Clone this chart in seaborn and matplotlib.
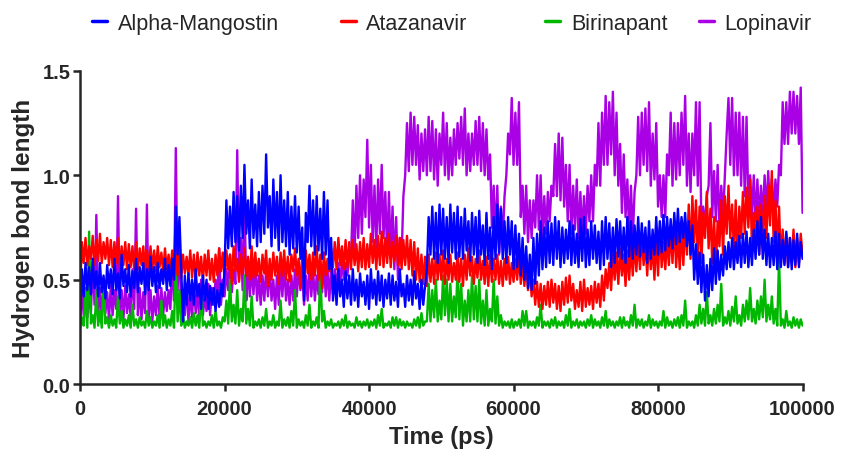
import numpy as np
import pandas as pd
import seaborn as sns
import matplotlib.pyplot as plt

# time axis (ps), one sample every 250 ps
time_ps = np.arange(0, 100001, 250)

alpha_mangostin = [
    0.32, 0.55, 0.42, 0.58, 0.45, 0.56, 0.43, 0.60, 0.46, 0.54,
    0.42, 0.58, 0.44, 0.52, 0.41, 0.57, 0.46, 0.55, 0.43, 0.60,
    0.45, 0.53, 0.41, 0.62, 0.47, 0.55, 0.44, 0.57, 0.42, 0.54,
    0.46, 0.60, 0.44, 0.56, 0.48, 0.58, 0.43, 0.55, 0.45, 0.61,
    0.47, 0.56, 0.44, 0.58, 0.46, 0.55, 0.48, 0.60, 0.45, 0.57,
    0.47, 0.60, 0.50, 0.85, 0.62, 0.80, 0.55, 0.30, 0.52, 0.38,
    0.53, 0.40, 0.50, 0.38, 0.55, 0.42, 0.48, 0.36, 0.52, 0.40,
    0.50, 0.36, 0.47, 0.38, 0.46, 0.35, 0.45, 0.37, 0.48, 0.42,
    0.55, 0.88, 0.65, 0.85, 0.66, 0.92, 0.68, 0.90, 0.64, 0.95,
    0.70, 1.05, 0.72, 0.88, 0.65, 0.98, 0.70, 0.86, 0.66, 0.92,
    0.68, 0.95, 0.72, 1.10, 0.75, 0.90, 0.66, 0.98, 0.70, 0.92,
    0.64, 1.00, 0.68, 0.88, 0.66, 0.92, 0.62, 0.85, 0.65, 0.90,
    0.63, 0.85, 0.60, 0.75, 0.40, 0.82, 0.68, 0.95, 0.66, 0.88,
    0.62, 0.90, 0.64, 0.84, 0.60, 0.92, 0.62, 0.88, 0.55, 0.70,
    0.40, 0.52, 0.38, 0.55, 0.42, 0.50, 0.37, 0.54, 0.41, 0.52,
    0.38, 0.55, 0.40, 0.50, 0.37, 0.53, 0.42, 0.49, 0.38, 0.52,
    0.36, 0.55, 0.41, 0.50, 0.38, 0.54, 0.40, 0.52, 0.37, 0.50,
    0.41, 0.53, 0.38, 0.52, 0.40, 0.49, 0.37, 0.55, 0.42, 0.48,
    0.37, 0.52, 0.40, 0.50, 0.38, 0.54, 0.41, 0.48, 0.36, 0.50,
    0.38, 0.47, 0.55, 0.80, 0.62, 0.85, 0.60, 0.82, 0.58, 0.86,
    0.62, 0.84, 0.60, 0.80, 0.58, 0.86, 0.63, 0.82, 0.60, 0.85,
    0.61, 0.80, 0.60, 0.84, 0.64, 0.78, 0.59, 0.82, 0.62, 0.80,
    0.58, 0.83, 0.62, 0.76, 0.57, 0.82, 0.60, 0.75, 0.55, 0.80,
    0.60, 0.86, 0.63, 0.84, 0.60, 0.78, 0.58, 0.80, 0.62, 0.78,
    0.55, 0.76, 0.56, 0.72, 0.52, 0.70, 0.50, 0.66, 0.46, 0.62,
    0.45, 0.70, 0.48, 0.72, 0.52, 0.78, 0.55, 0.75, 0.56, 0.78,
    0.58, 0.77, 0.57, 0.80, 0.60, 0.78, 0.56, 0.75, 0.58, 0.74,
    0.60, 0.78, 0.57, 0.76, 0.58, 0.72, 0.56, 0.79, 0.59, 0.80,
    0.56, 0.74, 0.57, 0.78, 0.60, 0.76, 0.58, 0.73, 0.55, 0.78,
    0.57, 0.80, 0.60, 0.77, 0.56, 0.75, 0.58, 0.79, 0.61, 0.78,
    0.60, 0.75, 0.58, 0.80, 0.61, 0.78, 0.60, 0.76, 0.62, 0.80,
    0.61, 0.77, 0.63, 0.75, 0.58, 0.78, 0.60, 0.74, 0.62, 0.80,
    0.62, 0.78, 0.63, 0.81, 0.64, 0.80, 0.66, 0.79, 0.65, 0.82,
    0.67, 0.84, 0.68, 0.80, 0.70, 0.82, 0.66, 0.78, 0.62, 0.76,
    0.50, 0.67, 0.48, 0.63, 0.44, 0.62, 0.40, 0.57, 0.42, 0.60,
    0.45, 0.65, 0.48, 0.64, 0.50, 0.62, 0.52, 0.66, 0.55, 0.68,
    0.56, 0.70, 0.55, 0.68, 0.58, 0.71, 0.56, 0.72, 0.58, 0.73,
    0.56, 0.70, 0.57, 0.74, 0.60, 0.78, 0.62, 0.80, 0.60, 0.74,
    0.57, 0.72, 0.56, 0.70, 0.57, 0.73, 0.55, 0.72, 0.56, 0.69,
    0.57, 0.73, 0.56, 0.70, 0.55, 0.69, 0.57, 0.72, 0.56, 0.68,
    0.60,
]

atazanavir = [
    0.45, 0.68, 0.58, 0.70, 0.57, 0.66, 0.60, 0.71, 0.57, 0.69,
    0.59, 0.72, 0.58, 0.68, 0.60, 0.70, 0.57, 0.69, 0.56, 0.68,
    0.58, 0.70, 0.56, 0.66, 0.57, 0.68, 0.55, 0.67, 0.56, 0.66,
    0.54, 0.68, 0.55, 0.65, 0.57, 0.66, 0.54, 0.64, 0.56, 0.66,
    0.55, 0.64, 0.54, 0.66, 0.56, 0.63, 0.54, 0.65, 0.55, 0.62,
    0.53, 0.64, 0.50, 0.62, 0.52, 0.63, 0.51, 0.62, 0.53, 0.61,
    0.52, 0.64, 0.51, 0.62, 0.50, 0.63, 0.52, 0.61, 0.49, 0.62,
    0.52, 0.64, 0.50, 0.60, 0.49, 0.62, 0.52, 0.65, 0.54, 0.63,
    0.50, 0.64, 0.55, 0.62, 0.48, 0.66, 0.54, 0.60, 0.49, 0.62,
    0.53, 0.65, 0.52, 0.61, 0.50, 0.66, 0.51, 0.63, 0.52, 0.60,
    0.49, 0.62, 0.53, 0.64, 0.47, 0.60, 0.50, 0.63, 0.52, 0.61,
    0.48, 0.63, 0.52, 0.64, 0.50, 0.61, 0.49, 0.62, 0.54, 0.65,
    0.52, 0.60, 0.46, 0.62, 0.50, 0.64, 0.53, 0.62, 0.50, 0.63,
    0.52, 0.66, 0.50, 0.62, 0.46, 0.63, 0.52, 0.60, 0.54, 0.65,
    0.56, 0.68, 0.55, 0.70, 0.57, 0.66, 0.55, 0.69, 0.56, 0.68,
    0.55, 0.69, 0.57, 0.67, 0.54, 0.68, 0.56, 0.70, 0.55, 0.67,
    0.56, 0.72, 0.58, 0.69, 0.55, 0.71, 0.57, 0.73, 0.56, 0.70,
    0.58, 0.72, 0.56, 0.68, 0.59, 0.71, 0.57, 0.70, 0.55, 0.69,
    0.57, 0.71, 0.55, 0.69, 0.52, 0.68, 0.50, 0.65, 0.49, 0.62,
    0.48, 0.61, 0.47, 0.62, 0.49, 0.60, 0.48, 0.63, 0.50, 0.62,
    0.50, 0.64, 0.48, 0.60, 0.50, 0.62, 0.49, 0.58, 0.50, 0.63,
    0.49, 0.60, 0.47, 0.62, 0.50, 0.65, 0.52, 0.61, 0.48, 0.60,
    0.51, 0.64, 0.50, 0.59, 0.48, 0.61, 0.47, 0.62, 0.49, 0.60,
    0.50, 0.62, 0.48, 0.59, 0.47, 0.60, 0.50, 0.61, 0.48, 0.58,
    0.49, 0.60, 0.50, 0.62, 0.48, 0.59, 0.47, 0.58, 0.45, 0.56,
    0.42, 0.50, 0.38, 0.49, 0.37, 0.48, 0.36, 0.47, 0.38, 0.49,
    0.37, 0.50, 0.39, 0.48, 0.36, 0.47, 0.35, 0.49, 0.38, 0.51,
    0.39, 0.52, 0.40, 0.48, 0.36, 0.45, 0.37, 0.49, 0.35, 0.50,
    0.37, 0.46, 0.38, 0.47, 0.36, 0.49, 0.39, 0.48, 0.37, 0.52,
    0.40, 0.55, 0.46, 0.58, 0.45, 0.62, 0.50, 0.63, 0.48, 0.65,
    0.52, 0.62, 0.47, 0.64, 0.50, 0.66, 0.52, 0.68, 0.54, 0.70,
    0.55, 0.72, 0.57, 0.68, 0.52, 0.70, 0.55, 0.67, 0.50, 0.72,
    0.52, 0.75, 0.56, 0.68, 0.55, 0.70, 0.57, 0.74, 0.58, 0.78,
    0.56, 0.72, 0.55, 0.75, 0.57, 0.78, 0.62, 0.86, 0.60, 0.90,
    0.68, 0.88, 0.60, 0.85, 0.58, 0.82, 0.70, 0.92, 0.65, 0.84,
    0.58, 0.80, 0.55, 0.78, 0.66, 0.88, 0.62, 0.90, 0.72, 0.95,
    0.70, 0.86, 0.64, 0.88, 0.60, 0.85, 0.70, 0.92, 0.72, 0.94,
    0.75, 0.98, 0.65, 0.82, 0.63, 0.85, 0.62, 0.86, 0.68, 0.90,
    0.70, 0.95, 0.76, 1.02, 0.68, 0.88, 0.62, 0.85, 0.58, 0.74,
    0.58, 0.72, 0.56, 0.70, 0.58, 0.74, 0.56, 0.70, 0.58, 0.72,
    0.62,
]

birinapant = [
    0.27, 0.32, 0.28, 0.45, 0.27, 0.73, 0.29, 0.33, 0.27, 0.45,
    0.28, 0.35, 0.27, 0.50, 0.29, 0.32, 0.27, 0.33, 0.28, 0.31,
    0.27, 0.42, 0.29, 0.35, 0.27, 0.31, 0.28, 0.33, 0.27, 0.38,
    0.28, 0.31, 0.27, 0.32, 0.28, 0.30, 0.27, 0.35, 0.28, 0.32,
    0.27, 0.30, 0.28, 0.33, 0.27, 0.40, 0.28, 0.33, 0.27, 0.31,
    0.28, 0.35, 0.27, 0.60, 0.30, 0.45, 0.28, 0.33, 0.27, 0.30,
    0.28, 0.32, 0.27, 0.34, 0.28, 0.33, 0.27, 0.45, 0.28, 0.30,
    0.27, 0.30, 0.28, 0.33, 0.27, 0.35, 0.28, 0.30, 0.27, 0.32,
    0.30, 0.40, 0.29, 0.50, 0.30, 0.38, 0.29, 0.45, 0.28, 0.36,
    0.30, 0.52, 0.29, 0.36, 0.28, 0.42, 0.27, 0.30, 0.28, 0.31,
    0.27, 0.32, 0.28, 0.36, 0.27, 0.30, 0.28, 0.33, 0.27, 0.30,
    0.28, 0.40, 0.27, 0.31, 0.28, 0.32, 0.27, 0.35, 0.28, 0.45,
    0.27, 0.31, 0.28, 0.30, 0.27, 0.33, 0.28, 0.38, 0.27, 0.30,
    0.28, 0.32, 0.27, 0.55, 0.30, 0.35, 0.27, 0.30, 0.28, 0.31,
    0.27, 0.29, 0.28, 0.30, 0.27, 0.31, 0.28, 0.33, 0.27, 0.30,
    0.28, 0.29, 0.27, 0.32, 0.28, 0.30, 0.27, 0.30, 0.28, 0.31,
    0.27, 0.30, 0.28, 0.31, 0.27, 0.33, 0.28, 0.36, 0.27, 0.29,
    0.28, 0.30, 0.27, 0.32, 0.28, 0.32, 0.27, 0.31, 0.28, 0.30,
    0.27, 0.30, 0.28, 0.29, 0.27, 0.31, 0.28, 0.32, 0.27, 0.34,
    0.28, 0.30, 0.30, 0.48, 0.30, 0.45, 0.32, 0.50, 0.30, 0.40,
    0.31, 0.52, 0.33, 0.50, 0.30, 0.48, 0.30, 0.42, 0.32, 0.55,
    0.31, 0.48, 0.28, 0.40, 0.30, 0.45, 0.30, 0.52, 0.31, 0.47,
    0.30, 0.50, 0.29, 0.40, 0.28, 0.45, 0.28, 0.36, 0.30, 0.50,
    0.29, 0.42, 0.28, 0.33, 0.27, 0.30, 0.28, 0.30, 0.27, 0.31,
    0.27, 0.30, 0.28, 0.31, 0.27, 0.35, 0.28, 0.35, 0.27, 0.30,
    0.28, 0.30, 0.27, 0.32, 0.28, 0.38, 0.27, 0.30, 0.28, 0.30,
    0.27, 0.31, 0.28, 0.32, 0.27, 0.30, 0.28, 0.30, 0.27, 0.33,
    0.28, 0.36, 0.27, 0.30, 0.28, 0.31, 0.27, 0.30, 0.28, 0.30,
    0.27, 0.31, 0.28, 0.33, 0.27, 0.31, 0.28, 0.30, 0.27, 0.32,
    0.28, 0.35, 0.27, 0.31, 0.28, 0.30, 0.27, 0.30, 0.28, 0.32,
    0.27, 0.32, 0.28, 0.30, 0.27, 0.33, 0.28, 0.38, 0.27, 0.31,
    0.28, 0.31, 0.27, 0.30, 0.28, 0.33, 0.27, 0.31, 0.28, 0.30,
    0.27, 0.30, 0.28, 0.35, 0.27, 0.32, 0.28, 0.30, 0.27, 0.31,
    0.28, 0.32, 0.27, 0.33, 0.28, 0.40, 0.27, 0.30, 0.28, 0.30,
    0.27, 0.33, 0.28, 0.38, 0.29, 0.36, 0.28, 0.44, 0.29, 0.33,
    0.28, 0.36, 0.29, 0.38, 0.30, 0.48, 0.28, 0.32, 0.29, 0.35,
    0.28, 0.37, 0.30, 0.42, 0.29, 0.33, 0.28, 0.38, 0.30, 0.40,
    0.31, 0.46, 0.30, 0.36, 0.29, 0.40, 0.31, 0.42, 0.32, 0.50,
    0.30, 0.38, 0.31, 0.42, 0.29, 0.36, 0.28, 0.60, 0.28, 0.31,
    0.27, 0.35, 0.28, 0.30, 0.27, 0.32, 0.28, 0.31, 0.27, 0.31,
    0.28,
]

lopinavir = [
    0.30, 0.45, 0.33, 0.46, 0.32, 0.44, 0.34, 0.60, 0.38, 0.81,
    0.35, 0.46, 0.32, 0.47, 0.34, 0.44, 0.31, 0.47, 0.33, 0.45,
    0.36, 0.90, 0.33, 0.45, 0.31, 0.47, 0.34, 0.43, 0.32, 0.55,
    0.36, 0.84, 0.33, 0.46, 0.31, 0.44, 0.34, 0.86, 0.32, 0.45,
    0.30, 0.42, 0.33, 0.47, 0.31, 0.46, 0.33, 0.44, 0.35, 0.45,
    0.36, 0.60, 0.40, 1.13, 0.45, 0.70, 0.32, 0.45, 0.33, 0.48,
    0.30, 0.44, 0.32, 0.48, 0.34, 0.46, 0.30, 0.50, 0.33, 0.42,
    0.35, 0.48, 0.33, 0.46, 0.38, 0.50, 0.40, 0.65, 0.38, 0.50,
    0.42, 0.55, 0.45, 0.62, 0.44, 0.55, 0.48, 1.12, 0.50, 0.70,
    0.45, 0.95, 0.40, 0.55, 0.42, 0.56, 0.43, 0.58, 0.40, 0.52,
    0.38, 0.52, 0.40, 0.55, 0.42, 0.56, 0.40, 0.50, 0.36, 0.52,
    0.38, 0.56, 0.42, 0.58, 0.40, 0.50, 0.38, 0.52, 0.40, 0.55,
    0.42, 0.56, 0.45, 0.54, 0.38, 0.52, 0.40, 0.57, 0.42, 0.55,
    0.40, 0.52, 0.43, 0.56, 0.44, 0.58, 0.42, 0.55, 0.40, 0.56,
    0.43, 0.55, 0.45, 0.58, 0.47, 0.60, 0.50, 0.58, 0.52, 0.62,
    0.60, 0.88, 0.62, 0.95, 0.70, 1.00, 0.72, 0.98, 0.80, 1.17,
    0.75, 1.05, 0.68, 0.95, 0.65, 0.98, 0.72, 1.05, 0.70, 0.92,
    0.62, 0.92, 0.60, 0.85, 0.55, 0.80, 0.50, 0.70, 0.60, 0.90,
    1.00, 1.25, 1.02, 1.30, 1.05, 1.28, 1.05, 1.24, 0.98, 1.20,
    1.02, 1.22, 1.00, 1.28, 1.02, 1.26, 0.98, 1.22, 0.95, 1.20,
    1.05, 1.30, 1.00, 1.25, 0.98, 1.18, 1.00, 1.22, 1.05, 1.25,
    1.08, 1.28, 1.05, 1.32, 1.00, 1.20, 1.02, 1.20, 1.05, 1.26,
    1.05, 1.28, 1.02, 1.25, 1.00, 1.22, 0.98, 1.10, 0.75, 0.95,
    0.70, 0.95, 0.62, 0.85, 0.68, 0.90, 1.00, 1.20, 1.10, 1.37,
    1.05, 1.30, 1.05, 1.35, 0.80, 0.95, 0.72, 0.95, 0.68, 0.88,
    0.70, 0.88, 0.75, 1.00, 0.74, 1.00, 0.70, 0.90, 0.72, 0.92,
    0.78, 0.95, 0.90, 1.15, 0.90, 1.20, 0.88, 1.18, 0.85, 1.05,
    0.78, 1.05, 0.72, 0.95, 0.74, 0.98, 0.70, 0.92, 0.70, 0.90,
    0.72, 0.95, 0.78, 1.00, 0.78, 1.05, 0.95, 1.25, 0.95, 1.30,
    1.05, 1.38, 1.05, 1.35, 1.10, 1.40, 1.00, 1.30, 0.95, 1.15,
    0.82, 1.10, 0.80, 0.98, 0.72, 0.95, 0.70, 0.92, 1.00, 1.28,
    1.00, 1.30, 1.05, 1.32, 1.02, 1.35, 0.95, 1.20, 0.98, 1.25,
    0.85, 1.00, 0.80, 1.00, 0.80, 1.10, 1.00, 1.30, 0.95, 1.25,
    0.98, 1.25, 1.00, 1.30, 1.05, 1.38, 0.95, 1.20, 0.92, 1.20,
    1.00, 1.35, 0.95, 1.35, 0.75, 0.85, 0.75, 0.90, 0.95, 1.25,
    0.80, 1.02, 0.78, 1.05, 0.75, 0.95, 0.80, 1.00, 1.20, 1.37,
    1.05, 1.37, 1.00, 1.30, 1.00, 1.30, 0.95, 1.28, 0.90, 1.28,
    0.85, 1.00, 0.80, 1.00, 0.78, 0.98, 0.78, 0.95, 0.80, 1.00,
    0.82, 1.02, 0.82, 0.98, 0.80, 0.98, 0.85, 1.05, 1.00, 1.35,
    1.15, 1.35, 1.15, 1.40, 1.20, 1.40, 1.20, 1.38, 1.15, 1.42,
    0.82,
]

legend_order = ['Alpha-Mangostin', 'Atazanavir', 'Birinapant', 'Lopinavir']
# purple at the back, blue on top
draw_order = ['Lopinavir', 'Birinapant', 'Atazanavir', 'Alpha-Mangostin']
colors = {'Alpha-Mangostin': '#0000ff', 'Atazanavir': '#ff0000',
          'Birinapant': '#00b800', 'Lopinavir': '#aa00e6'}
series = {'Alpha-Mangostin': alpha_mangostin, 'Atazanavir': atazanavir,
          'Birinapant': birinapant, 'Lopinavir': lopinavir}

sns.set_style('ticks')
plt.rcParams['font.family'] = ['Liberation Sans', 'DejaVu Sans']

fig = plt.figure(figsize=(8.43, 4.52), dpi=100)
ax = fig.add_axes([0.095, 0.148, 0.857, 0.693])

handles = {}
for name in draw_order:
    df = pd.DataFrame({'Time': time_ps, 'Length': series[name]})
    sns.lineplot(data=df, x='Time', y='Length', ax=ax, color=colors[name],
                 linewidth=1.7, legend=False)
    handles[name] = ax.get_lines()[-1]

ax.set_xlim(0, 100000)
ax.set_ylim(0, 1.5)
ax.set_xticks([0, 20000, 40000, 60000, 80000, 100000])
ax.set_yticks([0.0, 0.5, 1.0, 1.5])
ax.set_yticklabels(['0.0', '0.5', '1.0', '1.5'])
ax.set_xlabel('Time (ps)', fontsize=17, fontweight='bold', labelpad=5)
ax.set_ylabel('Hydrogen bond length', fontsize=17.5, fontweight='bold', labelpad=5)
for lab in ax.get_xticklabels() + ax.get_yticklabels():
    lab.set_fontweight('bold')
    lab.set_fontsize(14.5)
ax.tick_params(axis='x', width=1.8, length=5, pad=6)
ax.tick_params(axis='y', width=1.8, length=5, pad=2)
sns.despine(ax=ax)
for side in ['left', 'bottom']:
    ax.spines[side].set_linewidth(1.8)

# one legend per entry, placed like the original layout
legend_x = [0.109, 0.404, 0.647, 0.829]
for name, xpos in zip(legend_order, legend_x):
    leg = fig.legend([handles[name]], [name], loc='upper left',
                     bbox_to_anchor=(xpos, 0.97), frameon=False, fontsize=15.5,
                     handlelength=0.7, handletextpad=0.5, borderpad=0,
                     borderaxespad=0)
    for h in leg.legend_handles:
        h.set_linewidth(2.5)

fig.savefig('out.png', dpi=100)
